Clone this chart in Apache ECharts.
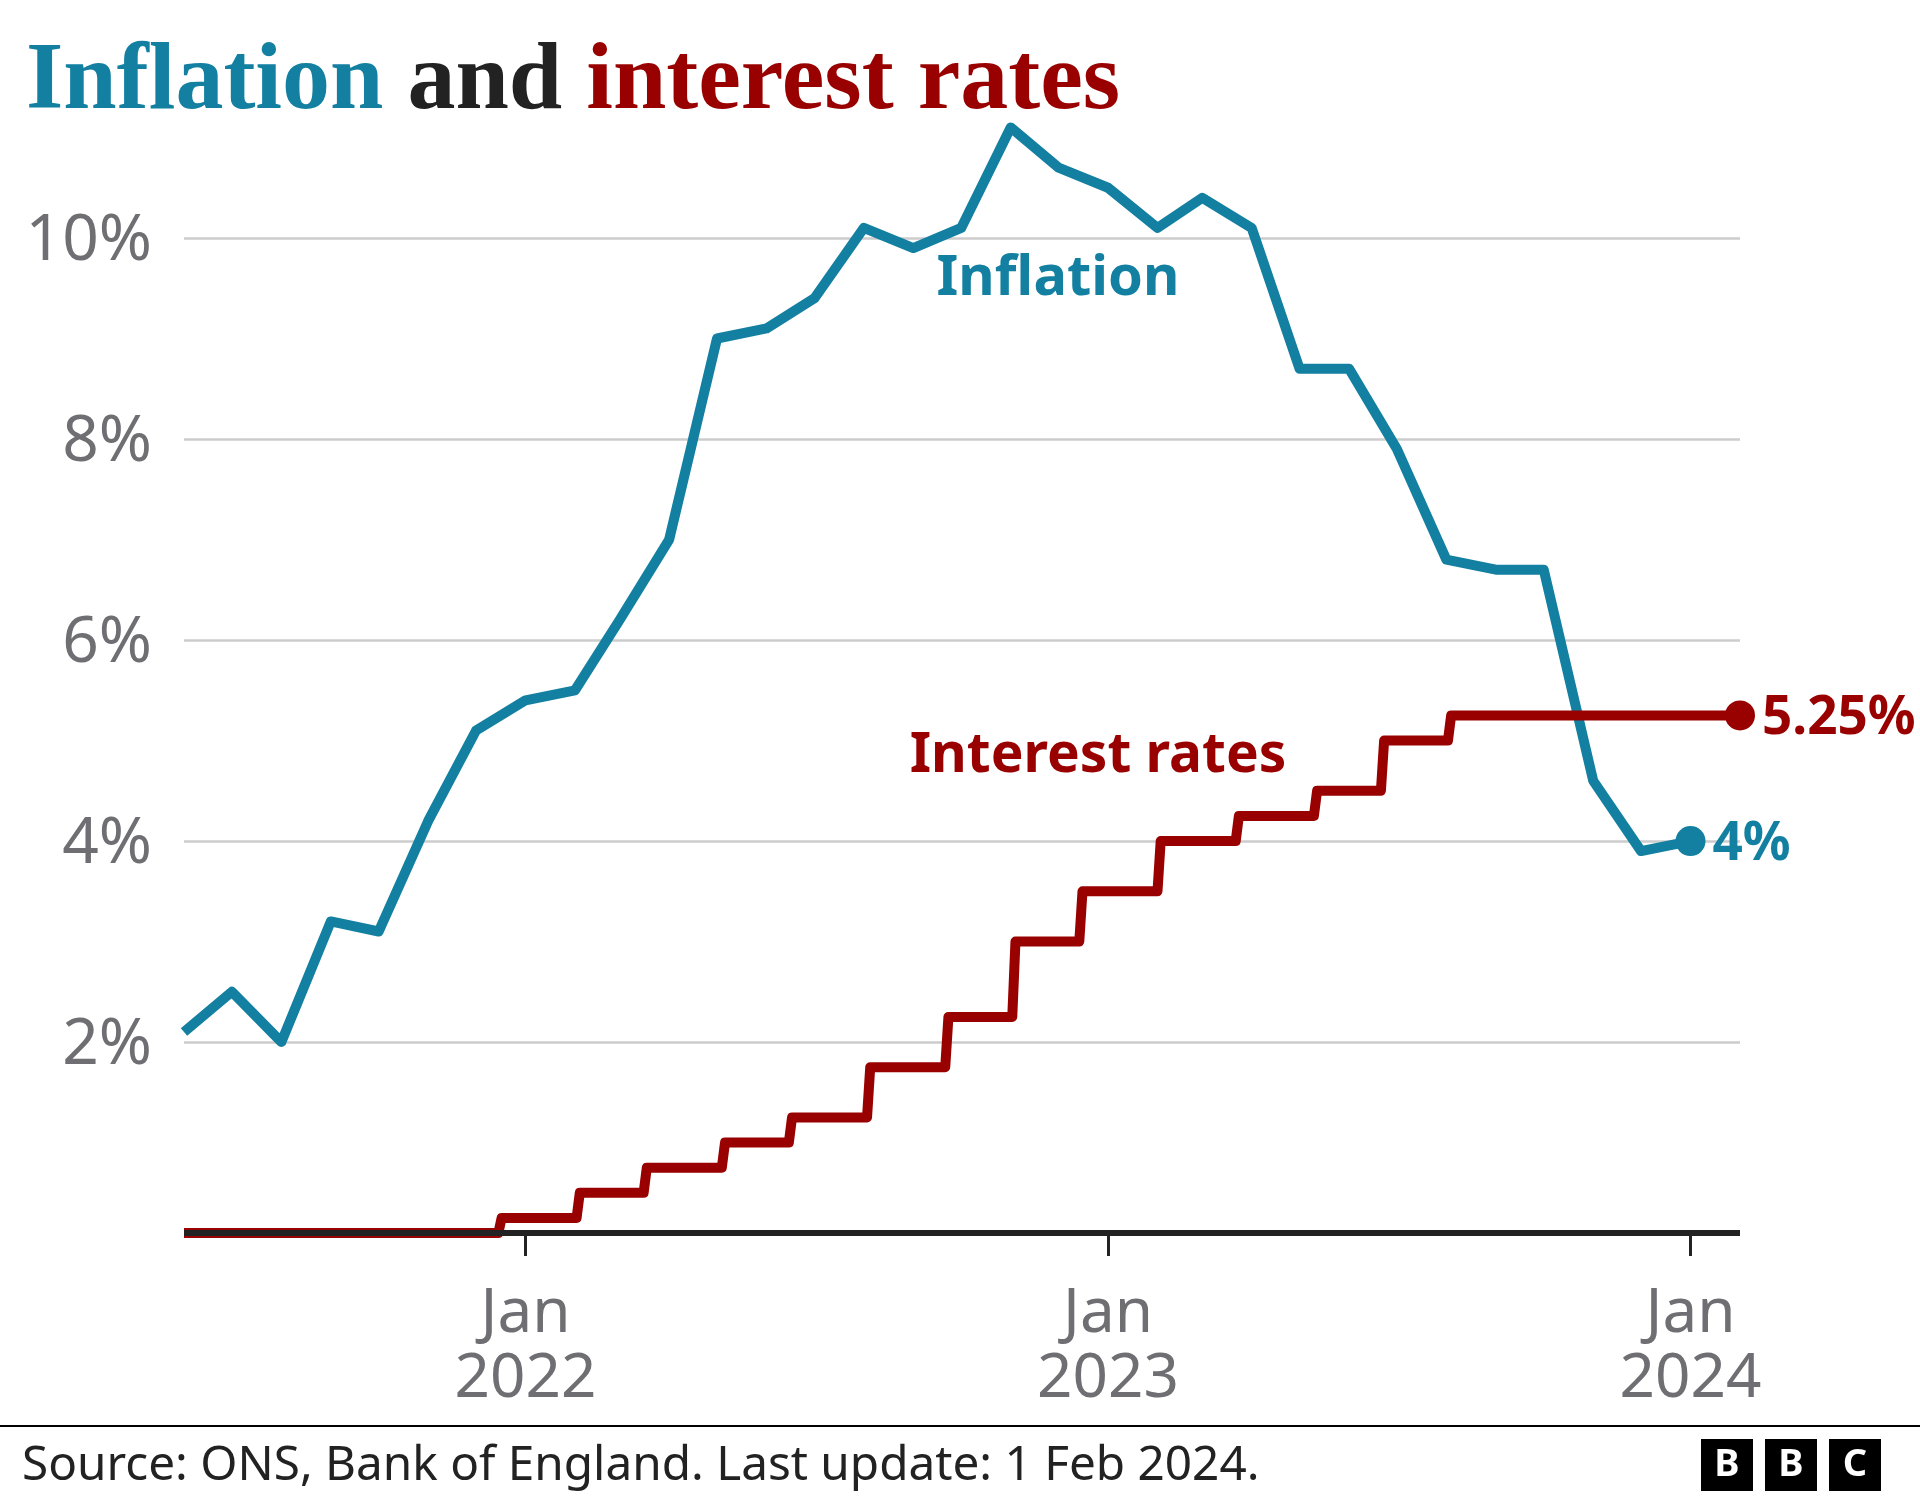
<!DOCTYPE html>
<html>
<head>
<meta charset="utf-8">
<style>html,body{margin:0;padding:0;background:#fff}#main{width:1920px;height:1500px}</style>
<script src="https://cdn.jsdelivr.net/npm/echarts@6/dist/echarts.min.js"></script>
</head>
<body>
<div id="main"></div>
<script>
// first of the month, Jun 2021 - Jan 2024
var inflationMonths = ['2021-06-01','2021-07-01','2021-08-01','2021-09-01','2021-10-01','2021-11-01','2021-12-01',
	'2022-01-01','2022-02-01','2022-03-01','2022-04-01','2022-05-01','2022-06-01','2022-07-01','2022-08-01','2022-09-01','2022-10-01','2022-11-01','2022-12-01',
	'2023-01-01','2023-02-01','2023-03-01','2023-04-01','2023-05-01','2023-06-01','2023-07-01','2023-08-01','2023-09-01','2023-10-01','2023-11-01','2023-12-01',
	'2024-01-01']
var inflationValues = [2.1,2.5,2.0,3.2,3.1,4.2,5.1,
	5.4,5.5,6.2,7.0,9.0,9.1,9.4,10.1,9.9,10.1,11.1,10.7,
	10.5,10.1,10.4,10.1,8.7,8.7,7.9,6.8,6.7,6.7,4.6,3.9,
	4.0]

// each rate decision and the rate from that day on
var rateDates = ['2021-06-01','2021-12-16','2022-02-03','2022-03-17','2022-05-05','2022-06-16','2022-08-04','2022-09-22','2022-11-03','2022-12-15','2023-02-02','2023-03-23','2023-05-11','2023-06-22','2023-08-03']
var rateValues = [0.1,0.25,0.5,0.75,1,1.25,1.75,2.25,3,3.5,4,4.25,4.5,5,5.25]
var rateEnd = '2024-02-01'

var yTicks = [2,4,6,8,10]
var xTicks = ['2022-01-01','2023-01-01','2024-01-01']

var BLUE = '#1380A1'
var RED = '#990000'
var GREY = '#6E6E73'
var DARK = '#222222'
var SANS = '"Noto Sans"'
var DAY = 864e5
function t(d) { return echarts.time.parse(d).getTime() }

var inflationData = inflationMonths.map(function (d, i) { return [t(d), inflationValues[i]] })

// the steps lean a little in the original, the move takes about 2 days
var rateData = [[t(rateDates[0]), rateValues[0]]]
for (var i = 1; i < rateDates.length; i++) {
	rateData.push([t(rateDates[i]) - DAY, rateValues[i - 1]])
	rateData.push([t(rateDates[i]) + DAY, rateValues[i]])
}
rateData.push([t(rateEnd), rateValues[rateValues.length - 1]])

function bbcBlock(x, letter) {
	return [
		{ type: 'rect', left: x, top: 1439, shape: { width: 52, height: 52 }, style: { fill: '#000' } },
		{ type: 'text', x: x + 26, y: 1465, style: { text: letter, fill: '#fff', font: 'bold 38px ' + SANS, textAlign: 'center', textVerticalAlign: 'middle' } },
	]
}

var myChart = echarts.init(document.getElementById('main'), null, { renderer: 'canvas' })
var option = {
	animation: false,
	backgroundColor: '#fff',
	title: {
		left: 21,
		top: 30,
		text: '{a|Inflation} {b|and} {c|interest rates}',
		textStyle: {
			fontFamily: '"Liberation Serif"',
			fontSize: 96,
			fontWeight: 'bold',
			rich: {
				a: { fontFamily: '"Liberation Serif"', fontSize: 96, fontWeight: 'bold', color: BLUE },
				b: { fontFamily: '"Liberation Serif"', fontSize: 96, fontWeight: 'bold', color: DARK },
				c: { fontFamily: '"Liberation Serif"', fontSize: 96, fontWeight: 'bold', color: RED },
			},
		},
	},
	grid: { left: 184, right: 180, top: 87.25, bottom: 267 },
	xAxis: {
		type: 'value',
		min: t(rateDates[0]),
		max: t(rateEnd),
		z: 5,
		splitLine: { show: false },
		axisLine: { onZero: false, lineStyle: { color: DARK, width: 6, cap: 'butt' } },
		axisTick: { length: 23, lineStyle: { color: DARK, width: 3 }, customValues: xTicks.map(t) },
		axisLabel: {
			customValues: xTicks.map(t),
			color: GREY,
			fontFamily: SANS,
			fontSize: 62,
			lineHeight: 65,
			margin: 49,
			hideOverlap: false,
			formatter: function (v) { return 'Jan\n' + new Date(v).getFullYear() },
		},
	},
	yAxis: {
		type: 'value',
		min: 0.1,
		max: 11.5,
		axisLine: { show: false },
		axisTick: { show: false, customValues: yTicks },
		splitLine: { lineStyle: { color: '#CCCCCC', width: 2.5 } },
		axisLabel: {
			customValues: yTicks,
			margin: 32,
			formatter: '{v|{value}%}',
			rich: { v: { color: GREY, fontFamily: SANS, fontSize: 64, padding: [8, 0, 0, 0] } },
		},
	},
	series: [
		{
			name: 'Inflation',
			type: 'line',
			data: inflationData,
			symbol: 'none',
			clip: false,
			z: 3,
			lineStyle: { color: BLUE, width: 10, join: 'round' },
		},
		{
			name: 'Interest rates',
			type: 'line',
			data: rateData,
			symbol: 'none',
			clip: false,
			z: 4,
			lineStyle: { color: RED, width: 10, join: 'round' },
		},
		{
			type: 'scatter',
			data: inflationData.slice(-1),
			symbolSize: 30,
			clip: false,
			z: 4,
			itemStyle: { color: BLUE, opacity: 1 },
			label: { show: true, position: 'right', distance: 7, offset: [0, 4], formatter: '4%', color: BLUE, fontFamily: SANS, fontWeight: 'bold', fontSize: 53 },
		},
		{
			type: 'scatter',
			data: rateData.slice(-1),
			symbolSize: 30,
			clip: false,
			z: 5,
			itemStyle: { color: RED, opacity: 1 },
			label: { show: true, position: 'right', distance: 7, offset: [0, 4], formatter: '5.25%', color: RED, fontFamily: SANS, fontWeight: 'bold', fontSize: 53 },
		},
	],
	graphic: [
		{ type: 'text', x: 1058, y: 279, style: { text: 'Inflation', fill: BLUE, font: 'bold 56px ' + SANS, textAlign: 'center', textVerticalAlign: 'middle' } },
		{ type: 'text', x: 1098, y: 756, style: { text: 'Interest rates', fill: RED, font: 'bold 55px ' + SANS, textAlign: 'center', textVerticalAlign: 'middle' } },
		{ type: 'rect', left: 0, top: 1425, shape: { width: 1920, height: 2 }, style: { fill: '#000' } },
		{ type: 'text', x: 22, y: 1466, style: { text: 'Source: ONS, Bank of England. Last update: 1 Feb 2024.', fill: DARK, font: '47.7px ' + SANS, textAlign: 'left', textVerticalAlign: 'middle' } },
	].concat(bbcBlock(1701, 'B'), bbcBlock(1765, 'B'), bbcBlock(1829, 'C')),
}
myChart.setOption(option)
</script>
</body>
</html>
